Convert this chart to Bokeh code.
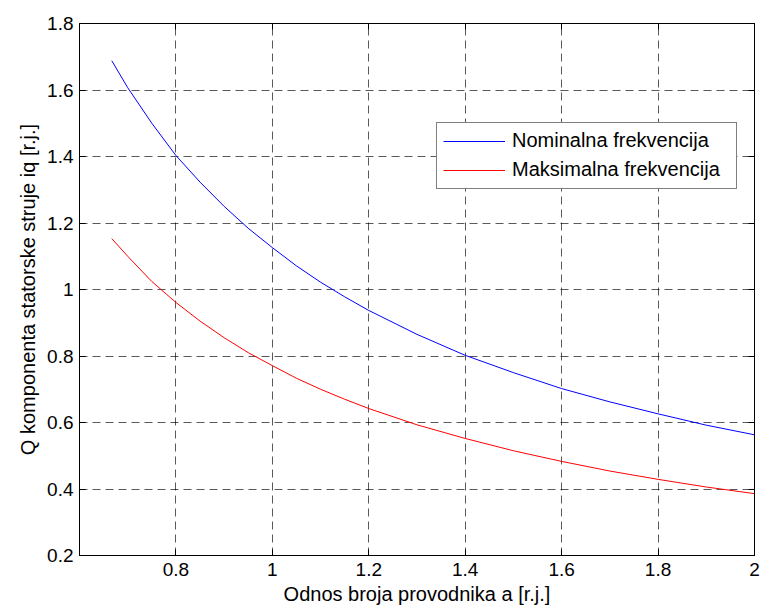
from bokeh.plotting import figure
from bokeh.models import (FixedTicker, CustomJSTickFormatter, LinearAxis, Range1d,
                          Legend, LegendItem, Title)
from bokeh.embed import file_html
from bokeh.resources import INLINE

# Data
a_vals = [0.667, 0.70, 0.75, 0.80, 0.85, 0.90, 0.95, 1.00, 1.05, 1.10, 1.15, 1.20,
          1.30, 1.40, 1.50, 1.60, 1.70, 1.80, 1.90, 2.00]
nominal = [1.688, 1.607, 1.500, 1.403, 1.323, 1.250, 1.184, 1.126, 1.071, 1.022, 0.978, 0.937,
           0.865, 0.802, 0.750, 0.702, 0.662, 0.626, 0.592, 0.563]
maximal = [1.153, 1.100, 1.024, 0.961, 0.905, 0.855, 0.810, 0.771, 0.733, 0.700, 0.670, 0.642,
           0.593, 0.552, 0.515, 0.483, 0.454, 0.429, 0.406, 0.386]
x_ticks = [0.8, 1, 1.2, 1.4, 1.6, 1.8, 2]
y_ticks = [0.2, 0.4, 0.6, 0.8, 1, 1.2, 1.4, 1.6, 1.8]
legend_labels = ["Nominalna frekvencija", "Maksimalna frekvencija"]
x_label = "Odnos broja provodnika a [r.j.]"
y_label = "Q komponenta statorske struje iq [r.j.]"

FONT = "Liberation Sans"
FS = "19px"

p = figure(width=762, height=610, output_backend="svg", toolbar_location=None,
           x_range=Range1d(0.6, 2.0), y_range=Range1d(0.2, 1.8),
           x_axis_location=None, y_axis_location=None,
           min_border_left=79, min_border_right=8, min_border_top=23, min_border_bottom=55)
p.background_fill_color = "white"
p.border_fill_color = "white"
p.outline_line_color = "black"
p.outline_line_width = 1

fmt = CustomJSTickFormatter(code="return tick.toFixed(1).replace(/\\.0$/, '');")
empty_fmt = CustomJSTickFormatter(code="return '';")
xt = FixedTicker(ticks=x_ticks)
yt = FixedTicker(ticks=y_ticks)


def style(ax, labels=True):
    ax.axis_line_color = "black"
    ax.major_tick_line_color = "black"
    ax.major_tick_in = 6
    ax.major_tick_out = 0
    ax.minor_tick_line_color = None
    if labels:
        ax.major_label_text_font = FONT
        ax.major_label_text_font_size = FS
        ax.major_label_text_color = "black"
        ax.axis_label_text_font = FONT
        ax.axis_label_text_font_size = FS
        ax.axis_label_text_font_style = "normal"
        ax.axis_label_text_color = "black"
    else:
        ax.major_label_text_font_size = "0px"
        ax.major_label_standoff = 0


bottom = LinearAxis(ticker=xt, formatter=fmt, axis_label=x_label)
style(bottom)
bottom.axis_label_text_font_size = "20px"
bottom.major_label_standoff = 7
bottom.axis_label_standoff = 4
left = LinearAxis(ticker=yt, formatter=fmt)
style(left)
left.major_label_standoff = 6
top = LinearAxis(ticker=xt, formatter=empty_fmt)
style(top, labels=False)
right = LinearAxis(ticker=yt, formatter=empty_fmt)
style(right, labels=False)
p.add_layout(bottom, "below")
p.add_layout(left, "left")
p.add_layout(top, "above")
p.add_layout(right, "right")

# vertical y-axis title
ytitle = Title(text=y_label, align="center", text_font=FONT, text_font_size="20px",
               text_font_style="normal", text_color="black", standoff=11)
p.add_layout(ytitle, "left")

p.xgrid.ticker = xt
p.ygrid.ticker = yt
for g in (p.xgrid, p.ygrid):
    g.grid_line_color = "black"
    g.grid_line_alpha = 0.65
    g.grid_line_dash = "8 5"
    g.grid_line_width = 1

r1 = p.line(a_vals, nominal, line_color="#0000ff", line_width=1)
r2 = p.line(a_vals, maximal, line_color="#ff0000", line_width=1)

legend = Legend(items=[LegendItem(label=legend_labels[0], renderers=[r1]),
                       LegendItem(label=legend_labels[1], renderers=[r2])],
                location=(357, 366.5))
legend.label_text_font = FONT
legend.label_text_font_size = "20px"
legend.label_text_color = "black"
legend.glyph_width = 62
legend.glyph_height = 24
legend.label_height = 24
legend.label_standoff = 7
legend.label_width = 218
legend.padding = 6
legend.spacing = 5
legend.margin = 0
legend.border_line_color = "black"
legend.border_line_width = 1
legend.background_fill_color = "white"
legend.background_fill_alpha = 1
p.add_layout(legend, "center")

open("out.html", "w").write(file_html(p, INLINE))
